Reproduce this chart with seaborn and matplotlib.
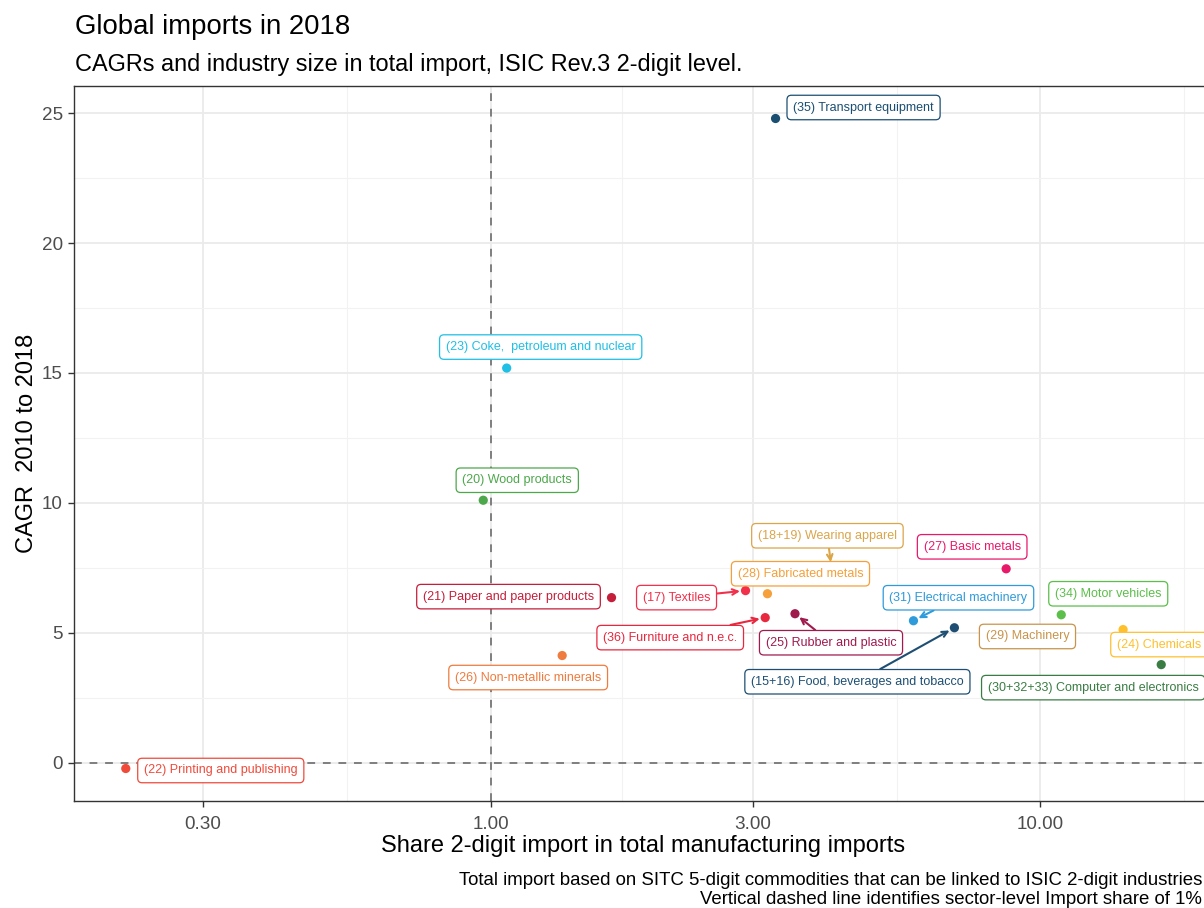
import numpy as np
import pandas as pd
import matplotlib
matplotlib.use("Agg")
import matplotlib.pyplot as plt
import seaborn as sns

# Industry data: import share (%) of total manufacturing imports and CAGR 2010-2018
industries = [
    "(35) Transport equipment",
    "(23) Coke,  petroleum and nuclear",
    "(20) Wood products",
    "(21) Paper and paper products",
    "(26) Non-metallic minerals",
    "(17) Textiles",
    "(28) Fabricated metals",
    "(36) Furniture and n.e.c.",
    "(25) Rubber and plastic",
    "(18+19) Wearing apparel",
    "(27) Basic metals",
    "(31) Electrical machinery",
    "(15+16) Food, beverages and tobacco",
    "(34) Motor vehicles",
    "(29) Machinery",
    "(24) Chemicals",
    "(30+32+33) Computer and electronics",
    "(22) Printing and publishing",
]
import_share = [3.30, 1.07, 0.97, 1.66, 1.35, 2.91, 3.19, 3.16, 3.58, 4.17,
                8.67, 5.88, 6.98, 10.92, 9.40, 14.15, 16.60, 0.217]
cagr = [24.80, 15.19, 10.10, 6.35, 4.12, 6.62, 6.50, 5.58, 5.73, 7.50,
        7.46, 5.46, 5.19, 5.69, 4.70, 5.12, 3.77, -0.23]
colors = ["#1B4F72", "#1FBFE6", "#4CA84A", "#C41E3A", "#EF7B3E", "#F2304C",
          "#F5A03A", "#E8283F", "#A01A4E", "#DBA54A", "#E8196A", "#2E9BDA",
          "#1E4F73", "#5BBF4A", "#C8944A", "#FFC02E", "#3A7D44", "#F04A3A"]

# Label placement (offset of label centre from its point, in pixels) and arrow flag
label_offsets = [(88, 11), (34, 21), (34, 20), (-103, 1), (-34, -22), (-69, -7),
                 (33, 20), (-95, -20), (36, -29), (-4, 32), (-34, 22), (45, 23),
                 (-97, -54), (47, 21), (2, 4), (36, -15), (-68, -23), (95, -2)]
with_arrow = [False, False, False, False, False, True, False, True, True, True,
              False, True, True, False, False, False, False, False]

x_breaks = [0.3, 1.0, 3.0, 10.0]
x_labels = ["0.30", "1.00", "3.00", "10.00"]
y_breaks = [0, 5, 10, 15, 20, 25]

df = pd.DataFrame({"industry": industries, "share": import_share, "cagr": cagr})
palette = dict(zip(industries, colors))

sns.set_theme(style="white")
plt.rcParams["font.family"] = ["Liberation Sans", "DejaVu Sans"]

W, H = 1204, 908
fig = plt.figure(figsize=(W / 100, H / 100), dpi=100)
ax = fig.add_axes([74 / W, 1 - 801 / H, (1213 - 74) / W, (801 - 86) / H])
ax.set_xscale("log")

sns.scatterplot(data=df, x="share", y="cagr", hue="industry", palette=palette,
                s=44, edgecolor="none", linewidth=0, legend=False, ax=ax, zorder=3)

# Minor breaks sit at midpoints of the major breaks in log space
lb = np.log10(x_breaks)
step = lb[1] - lb[0]
ext = np.concatenate([[lb[0] - step], lb, [lb[-1] + step]])
x_minor = 10 ** ((ext[:-1] + ext[1:]) / 2)
ax.set_xticks(x_breaks)
ax.set_xticklabels(x_labels)
ax.set_xticks(x_minor, minor=True)
ax.set_yticks(y_breaks)
ax.set_yticks([b + 2.5 for b in [-5] + y_breaks], minor=True)

# 5% expansion of the data range, in transformed space
lx = np.log10(df["share"].to_numpy())
xpad = 0.05 * (lx.max() - lx.min())
ax.set_xlim(10 ** (lx.min() - xpad), 10 ** (lx.max() + xpad))
yv = df["cagr"].to_numpy()
ypad = 0.05 * (yv.max() - yv.min())
ax.set_ylim(yv.min() - ypad, yv.max() + ypad)

ax.grid(which="major", color="#EBEBEB", linewidth=1.3, zorder=0)
ax.grid(which="minor", color="#F2F2F2", linewidth=0.8, zorder=0)
ax.set_axisbelow(True)
ax.tick_params(which="major", length=4, width=1, color="#333333",
               labelcolor="#4D4D4D", labelsize=13.6, direction="out",
               bottom=True, left=True)
ax.tick_params(axis="x", which="major", pad=7)
ax.tick_params(axis="y", which="major", pad=4)
ax.tick_params(which="minor", length=0)
for sp in ax.spines.values():
    sp.set_color("#333333")
    sp.set_linewidth(1.0)

ax.axvline(1.0, color="#7F7F7F", linestyle=(0, (4, 4)), linewidth=1.4, zorder=1)
ax.axhline(0.0, color="#7F7F7F", linestyle=(0, (4, 4)), linewidth=1.4, zorder=1)

for name, xs, yc, c, off, arr in zip(industries, import_share, cagr, colors,
                                      label_offsets, with_arrow):
    props = None
    if arr:
        props = dict(arrowstyle="->,head_length=0.45,head_width=0.22", color=c,
                     lw=1.5, shrinkA=0, shrinkB=4)
    ax.annotate(name, xy=(xs, yc), xytext=off, textcoords="offset pixels",
                ha="center", va="center", fontsize=9, color=c, zorder=5,
                bbox=dict(boxstyle="round,pad=0.5,rounding_size=0.35",
                          fc="white", ec=c, lw=0.9),
                arrowprops=props)

ax.set_xlabel("Share 2-digit import in total manufacturing imports",
              fontsize=17, color="black", labelpad=1)
ax.set_ylabel("CAGR  2010 to 2018", fontsize=17, color="black", labelpad=3)

fig.text(75 / W, 1 - 34 / H, "Global imports in 2018", fontsize=19.8,
         ha="left", va="baseline", color="black")
fig.text(75 / W, 1 - 71 / H,
         "CAGRs and industry size in total import, ISIC Rev.3 2-digit level.",
         fontsize=16.9, ha="left", va="baseline", color="black")
fig.text(1202 / W, 1 - 885 / H,
         "Total import based on SITC 5-digit commodities that can be linked to ISIC 2-digit industries",
         fontsize=13.4, ha="right", va="baseline", color="black")
fig.text(1202 / W, 1 - 904 / H,
         "Vertical dashed line identifies sector-level Import share of 1%",
         fontsize=13.4, ha="right", va="baseline", color="black")

fig.savefig("out.png", dpi=100)
